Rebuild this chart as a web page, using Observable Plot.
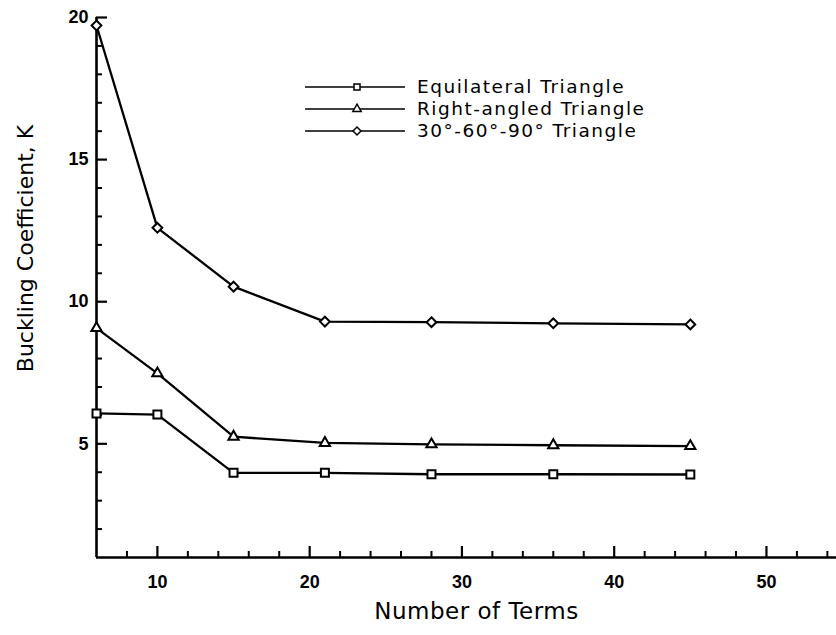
<!DOCTYPE html>
<html><head><meta charset="utf-8">
<script src="https://cdn.jsdelivr.net/npm/d3@7"></script>
<script src="https://cdn.jsdelivr.net/npm/@observablehq/plot@0.6"></script>
<style>
html,body{margin:0;padding:0;background:#fff;}
#chart{position:relative;width:836px;height:635px;overflow:hidden;}
#legend{position:absolute;left:305px;top:76px;font-family:"DejaVu Sans",sans-serif;font-size:18.5px;letter-spacing:1.5px;color:#000;}
.row{display:flex;align-items:center;height:22px;line-height:20px;white-space:nowrap;}
.row svg{width:100px;height:20px;margin-right:12px;flex:none;}
</style></head><body>
<div id="chart"><div id="legend"></div></div>
<script>
const terms = [6, 10, 15, 21, 28, 36, 45];
const seriesNames = ["Equilateral Triangle", "Right-angled Triangle", "30°-60°-90° Triangle"];
const equilateral = [6.07, 6.03, 3.98, 3.98, 3.93, 3.93, 3.92];
const rightAngled = [9.07, 7.48, 5.25, 5.03, 4.98, 4.95, 4.92];
const tri306090 = [19.72, 12.6, 10.53, 9.30, 9.28, 9.24, 9.20];
const seriesSymbols = ["square", "triangle", "diamond2"];
const xMajorTicks = [10, 20, 30, 40, 50];
const xMinorTicks = [8, 12, 14, 16, 18, 22, 24, 26, 28, 32, 34, 36, 38, 42, 44, 46, 48, 52, 54];
const yMajorTicks = [5, 10, 15, 20];
const yMinorTicks = [2, 3, 4, 6, 7, 8, 9, 11, 12, 13, 14, 16, 17, 18, 19];
const xDomain = [6, 54.6];
const yDomain = [1, 20];
const xLabel = "Number of Terms";
const yLabel = "Buckling Coefficient, K";

const values = [equilateral, rightAngled, tri306090];
const data = seriesNames.flatMap((s, i) => terms.map((t, j) => ({series: s, terms: t, k: values[i][j]})));
const dotR = [4.5, 3.8, 4.4];

const W = 836, H = 635, mL = 96, mR = 0, mT = 17, mB = 78;
const frameW = W - mL - mR, frameH = H - mT - mB;
// convert a tick length in pixels into data units along each axis
const yPerPx = (yDomain[1] - yDomain[0]) / frameH;
const xPerPx = (xDomain[1] - xDomain[0]) / frameW;
const xTick = (len) => ({x: d => d, y1: yDomain[0], y2: yDomain[0] + len * yPerPx});
const yTick = (len) => ({y: d => d, x1: xDomain[0], x2: xDomain[0] + len * xPerPx});

const chart = Plot.plot({
  width: W, height: H,
  marginLeft: mL, marginRight: mR, marginTop: mT, marginBottom: mB,
  x: {domain: xDomain, label: null, axis: null},
  y: {domain: yDomain, label: null, axis: null},
  style: {background: "white", color: "black", fontFamily: "'Liberation Sans', Arial, sans-serif"},
  marks: [
    // inward ticks
    Plot.ruleX(xMinorTicks, {...xTick(6), stroke: "black", strokeWidth: 2}),
    Plot.ruleX(xMajorTicks, {...xTick(11), stroke: "black", strokeWidth: 2.2}),
    Plot.ruleY(yMinorTicks, {...yTick(6), stroke: "black", strokeWidth: 2}),
    Plot.ruleY(yMajorTicks, {...yTick(11), stroke: "black", strokeWidth: 2.2}),
    // axis lines
    Plot.ruleY([yDomain[0]], {stroke: "black", strokeWidth: 2.6}),
    Plot.ruleX([xDomain[0]], {stroke: "black", strokeWidth: 2.6}),
    // tick labels
    Plot.axisX(xMajorTicks, {tickSize: 0, tickPadding: 18, fontSize: 18, fontWeight: "bold", label: null}),
    Plot.axisY(yMajorTicks, {tickSize: 0, tickPadding: 8, fontSize: 18, fontWeight: "bold", label: null}),
    // data
    Plot.line(data, {x: "terms", y: "k", z: "series", stroke: "black", strokeWidth: 2.3}),
    ...seriesNames.map((s, i) => Plot.dot(data.filter(d => d.series === s), {
      x: "terms", y: "k", symbol: seriesSymbols[i], r: dotR[i], fill: "white", stroke: "black", strokeWidth: 2
    })),
    // axis titles
    Plot.text([xLabel], {frameAnchor: "bottom", textAnchor: "middle", dx: 10, dy: 54, lineAnchor: "middle",
      fontSize: 23, fontFamily: "DejaVu Sans"}),
    Plot.text([yLabel], {frameAnchor: "left", textAnchor: "middle", rotate: -90, dx: -71, dy: -39, lineAnchor: "middle",
      fontSize: 22, fontFamily: "DejaVu Sans"})
  ]
});
chart.querySelectorAll("text").forEach(t => { if (t.textContent === xLabel) t.setAttribute("letter-spacing", "0.5"); });
document.getElementById("chart").prepend(chart);

// legend
const legend = d3.select("#legend");
const symMap = {square: d3.symbolSquare, triangle: d3.symbolTriangle, diamond2: d3.symbolDiamond2};
const legendSize = [36, 30, 40];
seriesNames.forEach((s, i) => {
  const row = legend.append("div").attr("class", "row");
  const svg = row.append("svg").attr("viewBox", "0 0 100 20");
  svg.append("line").attr("x1", 0).attr("x2", 100).attr("y1", 10).attr("y2", 10).attr("stroke", "black").attr("stroke-width", 1.6);
  svg.append("path").attr("transform", "translate(52,10)")
    .attr("d", d3.symbol(symMap[seriesSymbols[i]], legendSize[i])())
    .attr("fill", "white").attr("stroke", "black").attr("stroke-width", 1.5);
  row.append("span").text(s);
});
</script>
</body></html>
